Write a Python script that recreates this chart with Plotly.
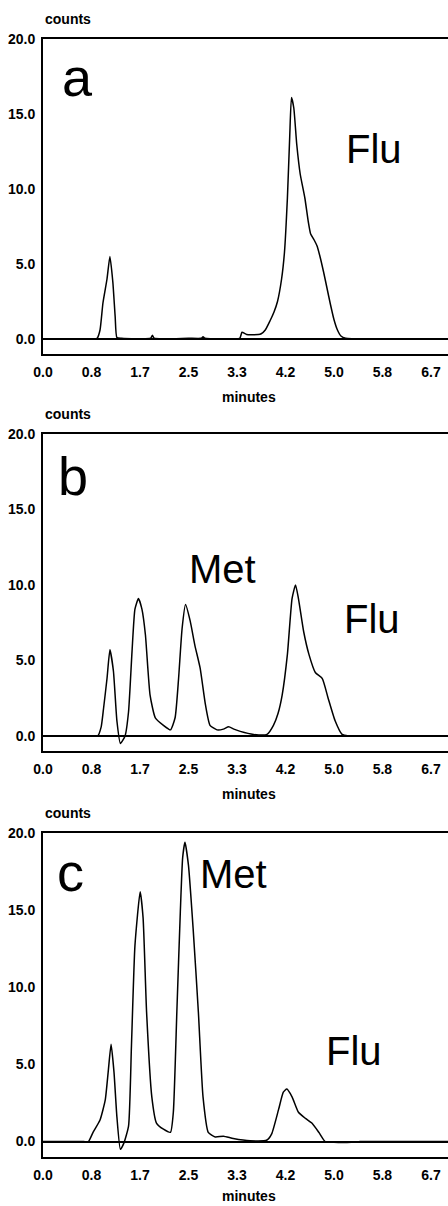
import plotly.graph_objects as go

# ---------------- data ----------------
tick_vals = [0.0, 0.833, 1.667, 2.5, 3.333, 4.167, 5.0, 5.833, 6.667]
tick_text = ["0.0", "0.8", "1.7", "2.5", "3.3", "4.2", "5.0", "5.8", "6.7"]
ytick_vals = [0, 5, 10, 15, 20]
ytick_text = ["0.0", "5.0", "10.0", "15.0", "20.0"]

time_a = [0.0, 0.5, 0.85, 0.9, 0.93, 0.98, 1.03, 1.1, 1.15, 1.2, 1.24, 1.27, 1.35, 1.85, 1.88, 1.91,
          2.5, 2.72, 2.75, 2.78, 3.38, 3.42, 3.5, 3.7, 3.75, 3.82, 3.9, 3.97, 4.03, 4.1,
          4.15, 4.2, 4.24, 4.27, 4.31, 4.36, 4.42, 4.5, 4.56, 4.6, 4.66, 4.71, 4.76, 4.82,
          4.88, 4.94, 5.0, 5.06, 5.12, 5.2, 5.6, 6.2, 7.0]
counts_a = [0.0, 0.0, 0.0, 0.0, 0.05, 0.6, 2.4, 4.0, 5.5, 3.8, 1.5, 0.1, 0.05, 0.05, 0.25, 0.05,
            0.05, 0.05, 0.15, 0.05, 0.05, 0.45, 0.3, 0.3, 0.35, 0.6, 1.2, 1.8, 2.5, 4.0,
            5.8, 9.4, 13.5, 16.1, 15.4, 13.0, 11.0, 9.4, 7.8, 7.0, 6.6, 6.2, 5.5, 4.5,
            3.4, 2.3, 1.3, 0.6, 0.2, 0.05, 0.0, 0.0, 0.0]

time_b = [0.0, 0.5, 0.85, 0.94, 1.0, 1.04, 1.1, 1.15, 1.21, 1.27, 1.33, 1.41, 1.47, 1.53, 1.58, 1.64,
          1.7, 1.76, 1.84, 1.93, 2.07, 2.19, 2.27, 2.33, 2.39, 2.45, 2.53, 2.61, 2.7, 2.79,
          2.87, 2.99, 3.1, 3.19, 3.28, 3.39, 3.62, 3.85, 3.96, 4.04, 4.11, 4.2, 4.28, 4.34,
          4.39, 4.48, 4.57, 4.68, 4.8, 4.9, 5.02, 5.14, 5.25, 5.6, 6.2, 7.0]
counts_b = [0.0, 0.0, 0.0, 0.0, 0.6, 1.8, 3.8, 5.7, 4.3, 1.0, -0.5, 0.0, 1.6, 5.6, 8.4, 9.1,
            8.4, 6.7, 2.7, 1.2, 0.7, 0.4, 1.2, 3.8, 7.1, 8.7, 7.6, 6.0, 4.5, 2.1,
            0.7, 0.4, 0.45, 0.6, 0.45, 0.3, 0.1, 0.1, 0.7, 1.5, 2.7, 5.4, 9.1, 10.0,
            9.1, 6.9, 5.4, 4.2, 3.8, 2.5, 1.0, 0.1, 0.0, 0.0, 0.0, 0.0]

time_c = [0.0, 0.4, 0.7, 0.78, 0.86, 0.98, 1.07, 1.12, 1.17, 1.22, 1.27, 1.33, 1.39, 1.47, 1.52,
          1.58, 1.67, 1.72, 1.78, 1.87, 1.95, 2.07, 2.19, 2.24, 2.3, 2.36, 2.4, 2.44, 2.5,
          2.58, 2.67, 2.75, 2.84, 2.96, 3.1, 3.27, 3.56, 3.85, 3.93, 4.05, 4.13, 4.19,
          4.28, 4.39, 4.51, 4.62, 4.74, 4.85, 5.0, 5.3, 5.45, 6.0, 7.0]
counts_c = [0.0, 0.0, 0.0, 0.0, 0.6, 1.4, 2.7, 4.5, 6.3, 4.5, 1.6, -0.5, -0.1, 1.0, 6.2,
            12.7, 16.2, 14.5, 8.4, 2.9, 1.2, 0.8, 0.6, 1.9, 8.4, 14.9, 18.4, 19.4, 17.9,
            13.8, 8.4, 2.9, 0.6, 0.3, 0.35, 0.2, 0.05, 0.1, 0.5, 2.1, 3.2, 3.4,
            2.9, 1.9, 1.5, 1.2, 0.6, 0.0, -0.05, -0.05, 0.0, 0.0, 0.0]

panel_letters = ["a", "b", "c"]

# ---------------- figure ----------------
W, H = 448, 1206
FONT = "Liberation Sans, Arial, Helvetica, sans-serif"

def px_x(p):
    return p / W

def px_y(p):
    return 1 - p / H

# pixel geometry: (top border, bottom border)
panels = [(39, 354), (434, 751), (833, 1157)]
x_left = 43

series = [(time_a, counts_a), (time_b, counts_b), (time_c, counts_c)]

fig = go.Figure()
for i, (t, c) in enumerate(series):
    sfx = "" if i == 0 else str(i + 1)
    fig.add_trace(go.Scatter(
        x=t, y=c, mode="lines",
        line=dict(color="black", width=1.5, shape="spline", smoothing=0.5),
        xaxis="x" + sfx, yaxis="y" + sfx, showlegend=False, hoverinfo="skip"))

layout = dict(
    width=W, height=H, margin=dict(l=0, r=0, t=0, b=0, autoexpand=False),
    paper_bgcolor="white", plot_bgcolor="white", showlegend=False,
    font=dict(family=FONT, color="black"),
)

for i, (top, bot) in enumerate(panels):
    sfx = "" if i == 0 else str(i + 1)
    layout["xaxis" + sfx] = dict(
        domain=[px_x(x_left), 1.0], range=[0, 6.96], automargin=False,
        anchor="y" + sfx, showgrid=False, zeroline=False,
        showline=True, linecolor="black", linewidth=2, mirror=True,
        ticks="", tickvals=tick_vals, ticktext=tick_text,
        tickfont=dict(family=FONT, size=14, color="black", weight="bold"),
        ticklabelstandoff=4,
    )
    layout["yaxis" + sfx] = dict(
        domain=[px_y(bot), px_y(top)], range=[-1.0, 20], automargin=False,
        anchor="x" + sfx, showgrid=False,
        zeroline=True, zerolinecolor="black", zerolinewidth=2,
        showline=True, linecolor="black", linewidth=2, mirror=False,
        ticks="", tickvals=ytick_vals, ticktext=ytick_text,
        tickfont=dict(family=FONT, size=14, color="black", weight="bold"),
        ticklabelstandoff=3,
    )

fig.update_layout(**layout)

small = dict(family=FONT, size=14, color="black", weight="bold")
annots = []
for i, (top, bot) in enumerate(panels):
    annots.append(dict(text="counts", x=px_x(x_left), y=px_y(top - 20), xref="paper", yref="paper",
                       xanchor="left", yanchor="middle", showarrow=False, font=small))
    my = min(bot + 43, 1196)
    annots.append(dict(text="minutes", x=px_x(249), y=px_y(my), xref="paper", yref="paper",
                       xanchor="center", yanchor="middle", showarrow=False, font=small))

big = dict(family=FONT, size=54, color="black")
lab = dict(family=FONT, size=40, color="black")
letter_pos = [(77, 77), (73, 476), (70, 872)]
for (x, y), letter in zip(letter_pos, panel_letters):
    annots.append(dict(text=letter, x=px_x(x), y=px_y(y), xref="paper", yref="paper",
                       xanchor="center", yanchor="middle", showarrow=False, font=big))

name_pos = [("Flu", 374, 149), ("Met", 222, 569), ("Flu", 372, 619),
            ("Met", 233, 874), ("Flu", 354, 1051)]
for name, x, y in name_pos:
    annots.append(dict(text=name, x=px_x(x), y=px_y(y), xref="paper", yref="paper",
                       xanchor="center", yanchor="middle", showarrow=False, font=lab))

fig.update_layout(annotations=annots)
fig.write_html(
    "out.html",
    config={"displayModeBar": False},
    post_script="document.body.style.margin='0';document.body.style.overflow='hidden';",
)
